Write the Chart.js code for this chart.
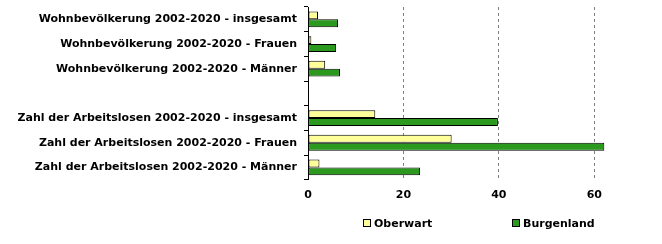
<!DOCTYPE html>
<html>
<head>
<meta charset="utf-8">
<script src="https://cdn.jsdelivr.net/npm/chart.js@4.4.1/dist/chart.umd.min.js"></script>
<style>
  html, body { margin: 0; padding: 0; background: #fff; }
  #wrap { position: relative; width: 662px; height: 244px; }
  #legend { position: absolute; top: 217px; left: 0; width: 662px; font: bold 11px "DejaVu Sans", Verdana, sans-serif; color: #000; }
  #legend span.item { position: absolute; white-space: nowrap; }
  #legend span.box { display: inline-block; width: 6px; height: 6px; border: 1px solid #000; margin-right: 3px; vertical-align: 0px; }
</style>
</head>
<body>
<div id="wrap">
  <canvas id="chart" width="662" height="244"></canvas>
  <div id="legend"></div>
</div>
<script>
var categories = [
  'Wohnbevölkerung 2002-2020 - insgesamt',
  'Wohnbevölkerung 2002-2020 - Frauen',
  'Wohnbevölkerung 2002-2020 - Männer',
  '',
  'Zahl der Arbeitslosen 2002-2020 - insgesamt',
  'Zahl der Arbeitslosen 2002-2020 - Frauen',
  'Zahl der Arbeitslosen 2002-2020 - Männer'
];
var oberwart = [2.1, 0.7, 3.6, null, 14.1, 30.1, 2.4];
var burgenland = [6.3, 5.9, 6.7, null, 39.8, 62.1, 23.5];
var xTicks = [0, 20, 40, 60];

var seriesNames = ['Oberwart', 'Burgenland'];
var seriesColors = ['#ffff99', '#2b981e'];
var font = {family: '"DejaVu Sans", Verdana, sans-serif', size: 11, weight: 'bold'};

var chart = new Chart(document.getElementById('chart'), {
  type: 'bar',
  data: {
    labels: categories,
    datasets: [
      {label: seriesNames[0], data: oberwart, backgroundColor: seriesColors[0]},
      {label: seriesNames[1], data: burgenland, backgroundColor: seriesColors[1]}
    ]
  },
  options: {
    indexAxis: 'y',
    responsive: false,
    animation: false,
    layout: {padding: {top: 7, right: 20, bottom: 33, left: 0}},
    datasets: {bar: {categoryPercentage: 0.64, barPercentage: 1, borderColor: '#000', borderWidth: 1, borderSkipped: false}},
    plugins: {legend: {display: false}, tooltip: {enabled: false}},
    scales: {
      x: {
        min: 0, max: 70,
        afterBuildTicks: function(scale) {
          scale.ticks = xTicks.map(function(v) { return {value: v}; });
        },
        afterFit: function(scale) { scale.paddingLeft = 0; scale.paddingRight = 0; },
        ticks: {font: font, color: '#000', padding: 9},
        grid: {
          drawTicks: false,
          color: function(c) { return c.tick && c.tick.value === 0 ? 'rgba(0,0,0,0)' : '#808080'; }
        },
        border: {display: false, dash: [3, 3]}
      },
      y: {
        afterFit: function(scale) { scale.width = 308; scale.paddingTop = 0; scale.paddingBottom = 0; },
        ticks: {font: font, color: '#000', padding: 7},
        grid: {drawOnChartArea: false, drawTicks: true, tickLength: 4, color: '#000'},
        border: {display: true, color: '#000', width: 1}
      }
    }
  }
});

// legend under the plot, built from the dataset names
var legend = document.getElementById('legend');
var legendX = [363, 512];
seriesNames.forEach(function(name, i) {
  var item = document.createElement('span');
  item.className = 'item';
  item.style.left = legendX[i] + 'px';
  var box = document.createElement('span');
  box.className = 'box';
  box.style.background = seriesColors[i];
  item.appendChild(box);
  item.appendChild(document.createTextNode(name));
  legend.appendChild(item);
});
</script>
</body>
</html>
